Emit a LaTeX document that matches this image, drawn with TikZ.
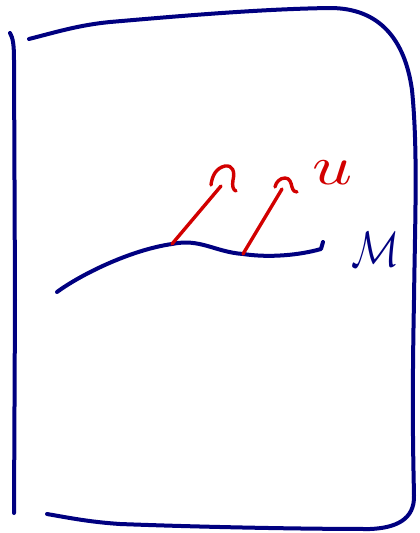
\documentclass[tikz,border=0pt]{standalone}
\usepackage{amsmath}
\definecolor{inkblue}{RGB}{0,0,128}
\definecolor{inkred}{RGB}{210,0,0}
\begin{document}
\begin{tikzpicture}[x=1pt,y=-1pt,
  blueink/.style={draw=inkblue,line width=4pt,line cap=round,line join=round},
  redink/.style={draw=inkred,line width=3.4pt,line cap=round,line join=round}]
\useasboundingbox (0,0) rectangle (420,533);
% left edge
\draw[blueink] (10,33) .. controls (13,38) and (14,45) .. (14,60) -- (15,300) -- (14,513);
% top, right, bottom
\draw[blueink] (29,39) .. controls (60,31) and (80,25) .. (110,22)
  .. controls (180,16) and (260,9) .. (330,8)
  .. controls (380,8) and (405,40) .. (412,90)
  .. controls (418,150) and (415,220) .. (414,300)
  .. controls (412,400) and (413,450) .. (414,495)
  .. controls (415,520) and (395,528) .. (370,529)
  .. controls (300,529) and (200,527) .. (120,524)
  .. controls (90,522) and (70,518) .. (47,514);
% manifold curve
\coordinate (p1) at (172,244);
\coordinate (p2) at (243,254);
\draw[blueink] (57,292) .. controls (80,275) and (130,250) .. (p1)
  .. controls (200,238) and (215,252) .. (p2)
  .. controls (270,258) and (300,255) .. (321,249) -- (323,242);
% red vectors
\coordinate (t1) at (221,186);
\coordinate (t2) at (282,189);
\draw[redink] (p1) -- (t1);
\draw[redink] (211,185) .. controls (212,176) and (216,168) .. (225,166)
  .. controls (233,165) and (235,172) .. (233,180) .. controls (232,186) and (233,190) .. (236,191);
\draw[redink] (p2) -- (t2);
\draw[redink] (275,187) .. controls (276,182) and (280,178) .. (285,178)
  .. controls (290,178) and (291,183) .. (292,187) .. controls (293,191) and (295,192) .. (297,192);
% labels
\node[text=inkblue,inner sep=0pt,xscale=4,yscale=5] (M) at (376,249) {$\mathcal{M}$};
\node[text=inkred,inner sep=0pt,xscale=7,yscale=5.5] (u) at (333,173) {$u$};
\end{tikzpicture}
\end{document}
